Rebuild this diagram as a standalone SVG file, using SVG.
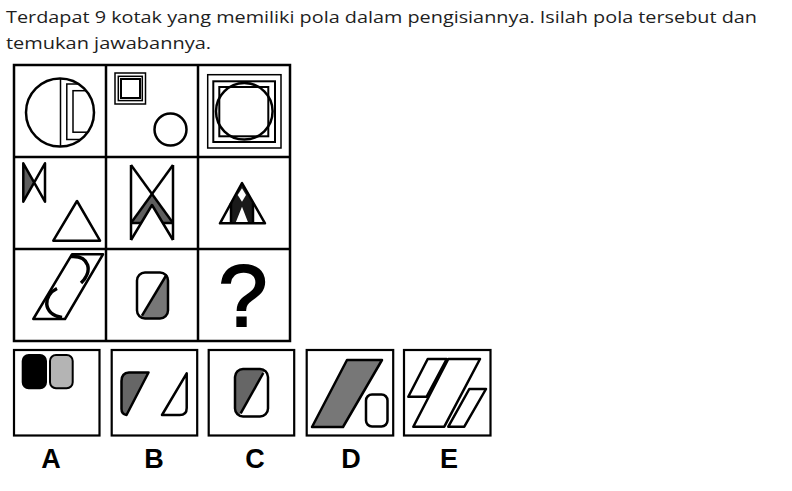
<svg xmlns="http://www.w3.org/2000/svg" width="792" height="491" viewBox="0 0 792 491">
<style>
  .hdr { font-family: "Open Sans", "Noto Sans", "Liberation Sans", sans-serif; font-size: 17px; fill: #1e1e1e; }
  .lbl { font-family: "Liberation Sans", Arial, sans-serif; font-size: 27px; font-weight: bold; fill: #000; text-anchor: middle; }
  .q { font-family: "Liberation Sans", Arial, sans-serif; font-size: 88px; fill: #000; stroke: #000; stroke-width: 2; text-anchor: middle; }
  .grid { fill: none; stroke: #000; stroke-width: 2.5; }
  .box { fill: #fff; stroke: #000; stroke-width: 2.2; }
  .s { fill: none; stroke: #000; stroke-width: 2.5; stroke-linejoin: round; }
  .t { fill: none; stroke: #000; stroke-width: 1.5; }
  .w { fill: #fff; stroke: #000; stroke-width: 2.5; stroke-linejoin: round; }
  .g { fill: #5e5e5e; stroke: none; }
</style>
<defs>
  <clipPath id="c1"><circle cx="60" cy="112.5" r="34"/></clipPath>
  <clipPath id="c8"><polygon points="172.9,265 180,265 180,325 135.4,325"/></clipPath>
  <clipPath id="cC"><polygon points="270.6,360 225,360 225,425 234.1,425"/></clipPath>
</defs>
<rect width="792" height="491" fill="#fff"/>
<text class="hdr" x="6" y="23" textLength="751" lengthAdjust="spacingAndGlyphs">Terdapat 9 kotak yang memiliki pola dalam pengisiannya. Isilah pola tersebut dan</text>
<text class="hdr" x="6" y="49" textLength="205" lengthAdjust="spacingAndGlyphs">temukan jawabannya.</text>

<g id="grid">
  <rect class="grid" x="14" y="65" width="276" height="276"/>
  <line class="grid" x1="106" y1="65" x2="106" y2="341"/>
  <line class="grid" x1="198" y1="65" x2="198" y2="341"/>
  <line class="grid" x1="14" y1="157" x2="290" y2="157"/>
  <line class="grid" x1="14" y1="249" x2="290" y2="249"/>
</g>

<g id="cell1">
  <g clip-path="url(#c1)">
    <line class="t" x1="60.5" y1="70" x2="60.5" y2="150"/>
    <rect class="t" x="66.8" y="84" width="50" height="55.5"/>
    <rect class="t" x="73" y="90.7" width="50" height="41.5"/>
  </g>
  <circle class="s" cx="60" cy="112.5" r="34"/>
</g>

<g id="cell2">
  <rect class="t" x="115" y="73" width="30.5" height="31"/>
  <rect class="t" x="118.3" y="76.3" width="24" height="24.3"/>
  <rect x="121" y="79" width="19" height="19" fill="none" stroke="#000" stroke-width="2"/>
  <circle class="s" cx="170.5" cy="129.5" r="16"/>
</g>

<g id="cell3">
  <rect class="t" x="207.7" y="74.7" width="73.3" height="73.3"/>
  <rect x="213.3" y="81.3" width="61.7" height="60.7" fill="none" stroke="#000" stroke-width="2"/>
  <rect x="219.3" y="87" width="49" height="49.3" fill="none" stroke="#000" stroke-width="2"/>
  <circle class="s" cx="244.3" cy="111.3" r="28.3"/>
</g>

<g id="cell4">
  <polygon class="g" points="23.3,163.3 34.2,182.5 23.3,201.7"/>
  <polygon class="s" points="23.3,163.3 45,201.7 45,163.3 23.3,201.7"/>
  <polygon class="s" points="77,201 53.3,240.7 100,240.7"/>
</g>

<g id="cell5">
  <polygon class="g" points="152,194 131,223 141.2,223 152,205 162.8,223 173,223"/>
  <line class="s" x1="131" y1="165" x2="131" y2="240"/>
  <line class="s" x1="173" y1="165" x2="173" y2="240"/>
  <line class="s" x1="131" y1="165" x2="173" y2="223"/>
  <line class="s" x1="173" y1="165" x2="131" y2="223"/>
  <polyline class="s" points="131,240 152,205 173,240"/>
  <line class="s" x1="131" y1="223" x2="141.2" y2="223"/>
  <line class="s" x1="162.8" y1="223" x2="173" y2="223"/>
</g>

<g id="cell6">
  <polygon fill="#1a1a1a" points="231,223 231,203 242,183 253,203 253,223 248.3,223 242,206.7 235.5,223"/>
  <polygon fill="#fff" points="242,188.3 237.7,195 242,201.7 246,195"/>
  <line class="s" x1="231" y1="203" x2="231" y2="223"/>
  <line class="s" x1="253" y1="203" x2="253" y2="223"/>
  <polygon class="s" points="242,183 220,223.3 265,223.3"/>
</g>

<g id="cell7">
  <polygon class="s" points="72,254.3 103,254.3 65,319 33.3,319"/>
  <path d="M70.5 256.5 C 90 255, 93 272, 81 283" fill="none" stroke="#000" stroke-width="3.5"/>
  <path d="M57 288.5 C 43 295, 42 314, 62 317.5" fill="none" stroke="#000" stroke-width="3.5"/>
</g>

<g id="cell8">
  <rect x="137" y="272.5" width="31" height="46" rx="8" fill="#777" clip-path="url(#c8)"/>
  <line class="s" x1="166.7" y1="274.5" x2="142" y2="315.7"/>
  <rect class="s" x="137" y="272.5" width="31" height="46" rx="8"/>
</g>

<g id="cell9">
  <text class="q" x="243" y="326">?</text>
</g>

<g id="optA">
  <rect class="box" x="14" y="350" width="85.5" height="85.5"/>
  <rect x="22.7" y="355" width="23.3" height="33.3" rx="6" fill="#000" stroke="#000" stroke-width="2"/>
  <rect x="50" y="355" width="22.7" height="33.3" rx="6" fill="#b4b4b4" stroke="#000" stroke-width="2"/>
  <text class="lbl" x="51" y="467.5">A</text>
</g>

<g id="optB">
  <rect class="box" x="111.7" y="350" width="85.5" height="85.5"/>
  <path d="M148.5 372.5 L 126.5 415 Q 121.5 414 121.5 409 L 121.5 381 Q 121.5 373 129 372.5 Z" fill="#666" stroke="#000" stroke-width="2.5" stroke-linejoin="round"/>
  <path class="w" d="M186.7 373.3 L 186.7 408 Q 186.7 415 179.7 415 L 162 415 Z"/>
  <text class="lbl" x="154" y="467.5">B</text>
</g>

<g id="optC">
  <rect class="box" x="208.7" y="350" width="85.5" height="85.5"/>
  <rect x="235" y="369" width="33" height="47.5" rx="8" fill="#666" clip-path="url(#cC)"/>
  <line class="s" x1="263.3" y1="373" x2="240.7" y2="413.3"/>
  <rect class="s" x="235" y="369" width="33" height="47.5" rx="8"/>
  <text class="lbl" x="255" y="467.5">C</text>
</g>

<g id="optD">
  <rect class="box" x="306.7" y="350" width="86.5" height="85.5"/>
  <polygon points="347,360 382,360 343,427 312,427" fill="#777" stroke="#000" stroke-width="2.5" stroke-linejoin="round"/>
  <rect class="w" x="366" y="394.5" width="21.5" height="32" rx="6"/>
  <text class="lbl" x="351" y="467.5">D</text>
</g>

<g id="optE">
  <rect class="box" x="404" y="350" width="86.5" height="85.5"/>
  <polygon class="w" points="427.7,359 446.7,359 426.7,396.7 408.3,396.7"/>
  <polygon class="w" points="448.3,359 480,359 444.3,426.7 413.3,426.7"/>
  <polygon class="w" points="469.3,389 486,389 464.3,426.7 448.3,426.7"/>
  <text class="lbl" x="449" y="467.5">E</text>
</g>
</svg>
